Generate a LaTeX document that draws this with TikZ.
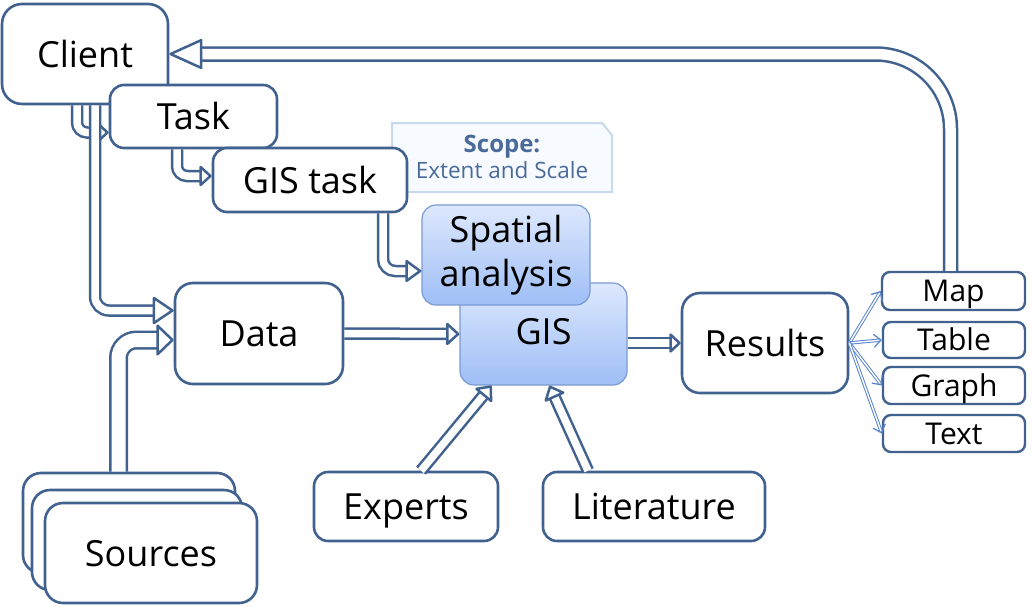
\documentclass[tikz,border=0pt]{standalone}
\usepackage{fontspec}
\setmainfont{Open Sans}
\usetikzlibrary{arrows.meta,calc}
\definecolor{bc}{HTML}{41618F}
\definecolor{lb}{HTML}{7B9BD3}
\definecolor{fanc}{HTML}{5A86D0}
\definecolor{scopeb}{HTML}{C8DAEE}
\definecolor{scopef}{HTML}{F7FAFE}
\definecolor{scopet}{HTML}{4A6B9A}
\definecolor{gtop}{HTML}{DDE8FD}
\definecolor{gbot}{HTML}{9EBEF6}
\begin{document}
\begin{tikzpicture}[x=1pt,y=-1pt,
  box/.style={draw=bc, line width=2.6pt, fill=white, rounded corners=14pt, inner sep=0pt,
    font=\fontsize{36}{40}\selectfont, text height=26pt, text depth=0pt},
  smallbox/.style={draw=bc, line width=2.4pt, fill=white, rounded corners=8pt, inner sep=0pt,
    font=\fontsize{30}{32}\selectfont, text height=21.5pt, text depth=0pt,
    minimum width=142pt, minimum height=37pt},
  bluebox/.style={draw=lb, line width=1.2pt, top color=gtop, bottom color=gbot, rounded corners=14pt,
    inner sep=0pt, font=\fontsize{36}{44}\selectfont, align=center},
  flow/.style={draw=bc, line width=2.5pt, double=white, double distance=7.5pt},
  hd/.style 2 args={-{Triangle[open,length=#1,width=#2,line width=2.5pt,round]}},
  fanarrow/.style={draw=fanc, line width=1pt, double=white, double distance=1.4pt,
    -{Straight Barb[length=7pt,width=13pt,line width=1.3pt]}}
]
\useasboundingbox[fill=white] (0,0) rectangle (1032,606);

% scope note
\draw[draw=scopeb, fill=scopef, line width=2pt]
  (392,123) -- (602,123) -- (612,135) -- (612,192) -- (392,192) -- cycle;
\node[inner sep=0pt, align=center, text=scopet, font=\fontsize{22.5}{26}\selectfont]
  (scope) at (502,157) {{\fontsize{24}{26}\selectfont\textbf{Scope:}}\\Extent and Scale};

% main boxes
\node[box, rounded corners=20pt, minimum width=166pt, minimum height=100pt] (client) at (85,54) {Client};
\node[box, minimum width=167pt, minimum height=63pt] (task) at (193.5,116.5) {Task};
\node[box, minimum width=194pt, minimum height=64pt] (gistask) at (310,180) {GIS task};
\node[box, rounded corners=18pt, minimum width=168pt, minimum height=101pt] (data) at (259,333.5) {Data};
\node[bluebox, minimum width=167pt, minimum height=102pt, text height=26pt, text depth=0pt] (gis) at (543.5,334) {\raisebox{3pt}{GIS}};
\node[bluebox, minimum width=168pt, minimum height=100pt] (spatial) at (506,255) {Spatial\\analysis};
\node[box, rounded corners=18pt, minimum width=166pt, minimum height=100pt] (results) at (765,343) {Results};

\node[smallbox, minimum width=143pt, minimum height=38pt] (map) at (953.5,291) {Map};
\node[smallbox, minimum height=36pt] (table) at (954,340) {Table};
\node[smallbox] (graph) at (954,385.5) {Graph};
\node[smallbox] (txt) at (954,433.5) {Text};

\node[box, minimum width=184pt, minimum height=69pt] (experts) at (406,506.5) {Experts};
\node[box, minimum width=222pt, minimum height=69pt] (literature) at (654,506.5) {Literature};

\node[box, rounded corners=18pt, minimum width=212pt, minimum height=100pt] (src3) at (129,523) {};
\node[box, rounded corners=18pt, minimum width=210pt, minimum height=100pt] (src2) at (137,540) {};
\node[box, rounded corners=18pt, minimum width=212pt, minimum height=100pt] (sources) at (151,553) {Sources};

% connectors
\draw[flow, double distance=10.5pt, hd={35pt}{31pt}, rounded corners=75pt]
  ($(map.north)+(-3,0)$) |- (client.east);
\draw[flow, hd={11pt}{20pt}, rounded corners=10pt]
  ($(client.south)+(-8,0)$) |- ($(task.west)+(0,16)$);
\draw[flow, hd={22pt}{29pt}, rounded corners=14pt]
  ($(client.south)+(10,0)$) |- ($(data.west)+(0,-23)$);
\draw[flow, double distance=14pt, hd={18pt}{34pt}, rounded corners=18pt]
  ($(src3.north)+(-10.5,0)$) |- ($(data.west)+(0,6.5)$);
\draw[flow, hd={13pt}{23pt}, rounded corners=10pt]
  ($(task.south)+(-16.5,0)$) |- ($(gistask.west)+(0,-4)$);
\draw[flow, hd={17pt}{24pt}, rounded corners=12pt]
  ($(gistask.south)+(73,0)$) |- ($(spatial.west)+(0,16)$);
\draw[flow, hd={14pt}{25pt}] (data.east) -- (gis.west);
\draw[flow, hd={12pt}{22pt}] ($(gis.east)+(0,9)$) -- (results.west);
\draw[flow, hd={14pt}{24pt}] ($(experts.north)+(15,0)$) -- ($(gis.south)+(-52,0)$);
\draw[flow, hd={14pt}{24pt}] ($(literature.north)+(-66,0)$) -- ($(gis.south)+(6,0)$);

\foreach \t in {map,table,graph,txt}
  \draw[fanarrow] (results.east) -- (\t.west);
\end{tikzpicture}
\end{document}
